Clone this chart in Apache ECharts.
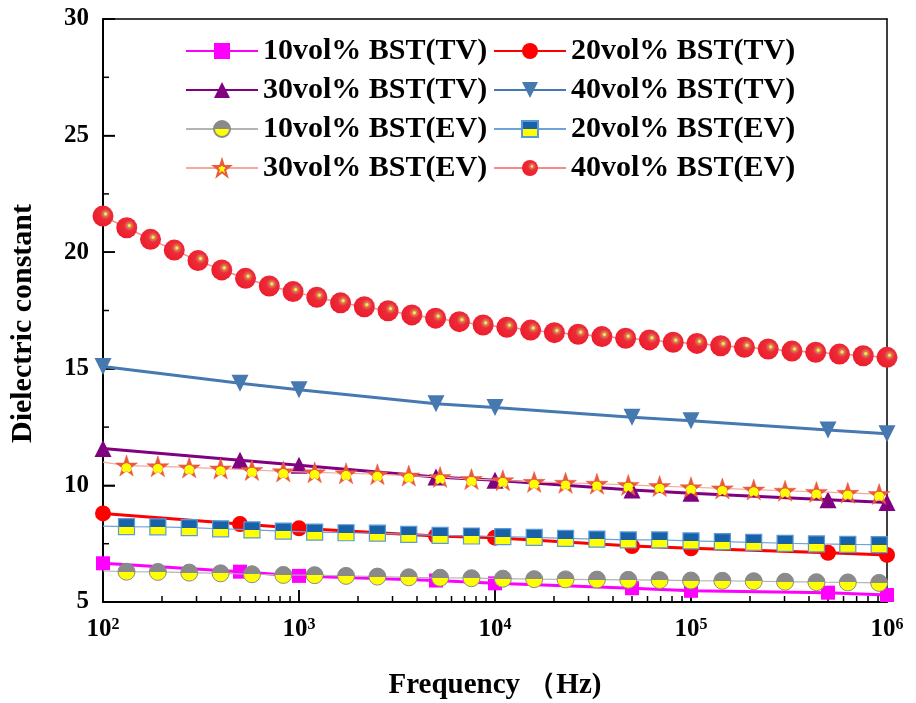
<!DOCTYPE html>
<html><head><meta charset="utf-8">
<script src="https://cdn.jsdelivr.net/npm/echarts@6/dist/echarts.min.js"></script>
<style>html,body{margin:0;padding:0;background:#fff}#c{width:916px;height:703px}</style>
</head><body><div id="c"></div>
<script>
// ---- data ----
const seriesNames = ['10vol% BST(TV)','20vol% BST(TV)','30vol% BST(TV)','40vol% BST(TV)',
                     '10vol% BST(EV)','20vol% BST(EV)','30vol% BST(EV)','40vol% BST(EV)'];
const tvFreq = [100, 500, 1000, 5000, 10000, 50000, 100000, 500000, 1000000];
const tv10 = [6.66, 6.30, 6.12, 5.92, 5.80, 5.59, 5.48, 5.40, 5.30];
const tv20 = [8.80, 8.34, 8.16, 7.83, 7.76, 7.40, 7.30, 7.11, 7.02];
const tv30 = [11.58, 11.08, 10.86, 10.36, 10.22, 9.80, 9.66, 9.38, 9.27];
const tv40 = [15.10, 14.38, 14.10, 13.50, 13.34, 12.92, 12.77, 12.38, 12.22];

// EV (10/20/30): first point is the start of the line (no marker)
const evFreq = [100, 131.8, 190.5, 275.4, 398.1, 575.4, 831.8, 1202, 1738, 2512, 3631, 5248, 7586,
  10965, 15849, 22909, 33113, 47863, 69183, 100000, 144544, 208930, 301995, 436516, 630957, 912011];
const ev10 = [6.33, 6.30, 6.29, 6.26, 6.23, 6.19, 6.16, 6.15, 6.12, 6.09, 6.06, 6.04, 6.02,
  6.00, 5.98, 5.97, 5.96, 5.95, 5.94, 5.92, 5.91, 5.89, 5.87, 5.85, 5.84, 5.82];
const ev20 = [8.25, 8.23, 8.22, 8.19, 8.14, 8.09, 8.04, 8.00, 7.97, 7.95, 7.90, 7.86, 7.83,
  7.80, 7.77, 7.73, 7.70, 7.66, 7.66, 7.62, 7.59, 7.56, 7.52, 7.49, 7.47, 7.46];
const ev30 = [11.00, 10.85, 10.82, 10.77, 10.72, 10.66, 10.60, 10.56, 10.52, 10.48, 10.42, 10.36, 10.27,
  10.22, 10.15, 10.11, 10.07, 10.02, 9.97, 9.92, 9.87, 9.82, 9.77, 9.72, 9.68, 9.63];
// EV 40
const ev40Freq = [100, 132.2, 174.8, 231.0, 305.4, 403.7, 533.7, 705.5, 932.6, 1232.8, 1629.8, 2154.4,
  2848.0, 3764.9, 4977.0, 6579.3, 8697.5, 11497.6, 15199.1, 20092.3, 26560.9, 35111.9, 46415.9,
  61359.1, 81113.1, 107226, 141747, 187382, 247708, 327455, 432876, 572237, 756463, 1000000];
const ev40 = [21.55, 21.05, 20.55, 20.09, 19.64, 19.24, 18.88, 18.55, 18.31, 18.07, 17.83, 17.66,
  17.49, 17.31, 17.17, 17.02, 16.88, 16.78, 16.66, 16.55, 16.48, 16.38, 16.31, 16.24, 16.14,
  16.09, 15.99, 15.92, 15.85, 15.76, 15.71, 15.63, 15.56, 15.49];

// tick values (axis decoration)
const xMajorTicks = [100, 1000, 10000, 100000, 1000000];
const xMinorTicks = [200,300,400,500,600,700,800,900, 2000,3000,4000,5000,6000,7000,8000,9000,
  20000,30000,40000,50000,60000,70000,80000,90000, 200000,300000,400000,500000,600000,700000,800000,900000];
const yMajorTicks = [5, 10, 15, 20, 25, 30];
const yMinorTicks = [7.5, 12.5, 17.5, 22.5, 27.5];

// ---- chart ----
const FONT = '"Liberation Serif","Times New Roman",serif';
const X_MIN = 100, Y_MIN = 5;
const pair = (xs, ys) => xs.map((x, i) => [x, ys[i]]);
const evData = (xs, ys) => xs.map((x, i) => i === 0 ? {value: [x, ys[i]], symbol: 'none'} : [x, ys[i]]);
const half = (top, bottom, cut) => new echarts.graphic.LinearGradient(0, 0, 0, 1, [
  {offset: 0, color: top}, {offset: cut, color: top}, {offset: cut, color: bottom}, {offset: 1, color: bottom}]);
const STAR = 'path://M50,0 L61.8,35.1 L98.9,35.1 L69,57.3 L80.3,92.7 L50,71 L19.7,92.7 L31,57.3 L1.1,35.1 L38.2,35.1 Z';

const tvSeries = (name, ys, color, symbol, size, rot) => ({
  name, type: 'line', data: pair(tvFreq, ys), symbol, symbolSize: size, symbolRotate: rot || 0,
  lineStyle: {color, width: 3}, itemStyle: {color}, z: 2
});

// tick items: [x, y, length, direction(0 = x-axis tick, 1 = y-axis tick)]
const tickItems = [].concat(
  xMajorTicks.map(v => [v, Y_MIN, 12, 0]), xMinorTicks.map(v => [v, Y_MIN, 6, 0]),
  yMajorTicks.map(v => [X_MIN, v, 12, 1]), yMinorTicks.map(v => [X_MIN, v, 6, 1]));

const black = {color: '#000', width: 1.5};
const xBase = {type: 'log', logBase: 10, min: 100, max: 1000000, splitLine: {show: false}};
const yBase = {type: 'value', min: 5, max: 30, interval: 5, splitLine: {show: false}};

const chart = echarts.init(document.getElementById('c'), null, {renderer: 'canvas'});
const txt = {fontFamily: FONT, fontWeight: 'bold', color: '#000'};
chart.setOption({
  animation: false,
  backgroundColor: '#fff',
  grid: {left: 103, right: 29, top: 19, bottom: 101, show: false, outerBoundsMode: 'none'},
  legend: [
    {left: 180, top: 31, orient: 'vertical', itemWidth: 72, itemHeight: 20, itemGap: 9, selectedMode: false,
     data: [seriesNames[0], seriesNames[2], seriesNames[4], seriesNames[6]], textStyle: Object.assign({fontSize: 30}, txt)},
    {left: 488, top: 31, orient: 'vertical', itemWidth: 72, itemHeight: 20, itemGap: 9, selectedMode: false,
     data: [seriesNames[1], seriesNames[3], seriesNames[5], seriesNames[7]], textStyle: Object.assign({fontSize: 30}, txt)}
  ],
  xAxis: [
    Object.assign({}, xBase, {position: 'bottom',
     axisLine: {show: true, onZero: false, lineStyle: {color: '#000', width: 2}},
     axisTick: {show: true, inside: true, length: 12, lineStyle: black},
     axisLabel: {margin: 15, color: '#000',
       formatter: v => '{a|10}{b|' + Math.round(Math.log10(v)) + '}',
       rich: {a: {fontSize: 25, fontFamily: FONT, fontWeight: 'bold', color: '#000'},
              b: {fontSize: 16, fontFamily: FONT, fontWeight: 'bold', color: '#000', verticalAlign: 'top'}}},
     name: 'Frequency （Hz)', nameLocation: 'middle', nameGap: 69,
     nameTextStyle: Object.assign({fontSize: 29}, txt)}),
    Object.assign({}, xBase, {position: 'top', axisLabel: {show: false}, axisTick: {show: false},
     axisLine: {show: true, onZero: false, lineStyle: black}})
  ],
  yAxis: [
    Object.assign({}, yBase, {position: 'left',
     axisLine: {show: true, onZero: false, lineStyle: {color: '#000', width: 2}},
     axisTick: {show: true, inside: true, length: 12, lineStyle: black},
     axisLabel: Object.assign({fontSize: 25, margin: 14}, txt),
     name: 'Dielectric constant', nameLocation: 'middle', nameGap: 65,
     nameTextStyle: Object.assign({fontSize: 30, padding: [0, 26, 0, 0]}, txt)}),
    Object.assign({}, yBase, {position: 'right', axisLabel: {show: false}, axisTick: {show: false},
     axisLine: {show: true, onZero: false, lineStyle: black}})
  ],
  series: [
    {type: 'custom', silent: true, clip: false, z: 1, data: tickItems, encode: {x: 0, y: 1},
     renderItem: (params, api) => {
       const p = api.coord([api.value(0), api.value(1)]);
       const len = api.value(2), dir = api.value(3);
       const shape = dir === 0 ? {x1: p[0], y1: p[1], x2: p[0], y2: p[1] - len}
                               : {x1: p[0], y1: p[1], x2: p[0] + len, y2: p[1]};
       return {type: 'line', shape, style: {stroke: '#000', lineWidth: 1.5}};
     }},
    tvSeries(seriesNames[0], tv10, '#FF00FF', 'rect', 14),
    tvSeries(seriesNames[1], tv20, '#FF0000', 'circle', 16),
    tvSeries(seriesNames[2], tv30, '#800080', 'triangle', 17),
    tvSeries(seriesNames[3], tv40, '#4679B0', 'triangle', 17, 180),
    {name: seriesNames[4], type: 'line', data: evData(evFreq, ev10), symbol: 'circle', symbolSize: 17, z: 3,
     lineStyle: {color: '#B4B4B4', width: 1.2},
     itemStyle: {color: half('#8A8A8A', '#FFFF00', 0.5), borderColor: '#8A8A8A', borderWidth: 1}},
    {name: seriesNames[5], type: 'line', data: evData(evFreq, ev20), symbol: 'rect', symbolSize: 16, z: 3,
     lineStyle: {color: '#6FA3D8', width: 1.2},
     itemStyle: {color: half('#1A62A8', '#FFFF00', 0.52), borderColor: '#5A9AD8', borderWidth: 1.2}},
    {name: seriesNames[6], type: 'line', data: evData(evFreq, ev30), symbol: STAR, symbolSize: [22, 21], z: 3,
     lineStyle: {color: '#F5A89C', width: 1.2},
     itemStyle: {color: new echarts.graphic.RadialGradient(0.5, 0.62, 0.5, [
       {offset: 0, color: '#FFFF00'}, {offset: 0.42, color: '#FFFF00'}, {offset: 0.48, color: '#EA5A3C'}, {offset: 1, color: '#EA5A3C'}]),
       borderColor: '#EA5A3C', borderWidth: 0.5}},
    {name: seriesNames[7], type: 'line', data: pair(ev40Freq, ev40), symbol: 'circle', symbolSize: 21, z: 3,
     lineStyle: {color: '#F48A8A', width: 1.5},
     itemStyle: {color: new echarts.graphic.RadialGradient(0.62, 0.4, 0.62, [
       {offset: 0, color: '#FFFF20'}, {offset: 0.09, color: '#F0E040'}, {offset: 0.16, color: '#D88060'},
       {offset: 0.4, color: '#EC2C38'}, {offset: 1, color: '#EE1C2C'}])}}
  ]
});
</script></body></html>
